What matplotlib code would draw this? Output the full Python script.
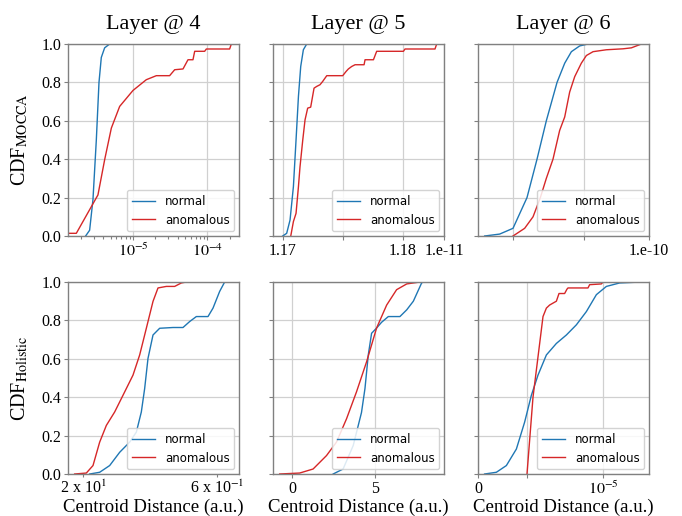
import numpy as np
import matplotlib
matplotlib.use("Agg")
import matplotlib.pyplot as plt

plt.rcParams['font.family'] = ['Liberation Serif', 'DejaVu Serif']
plt.rcParams['mathtext.fontset'] = 'stix'

# ---------------- data ----------------
titles = ["Layer @ 4", "Layer @ 5", "Layer @ 6"]
ylabels = [r"CDF$_{\rm MOCCA}$", r"CDF$_{\rm Holistic}$"]
xlabel = "Centroid Distance (a.u.)"
series_names = ["normal", "anomalous"]
yticks = [0.0, 0.2, 0.4, 0.6, 0.8, 1.0]
ytick_labels = ["0.0", "0.2", "0.4", "0.6", "0.8", "1.0"]

# Top row (MOCCA)
l4m_normal_x = [2.307e-6, 2.612e-6, 2.897e-6, 3.214e-6, 3.491e-6, 3.750e-6, 4.159e-6, 4.853e-6]
l4m_normal_y = [0.0, 0.03, 0.19, 0.5, 0.8, 0.93, 0.98, 1.0]
l4m_anom_x = [1.337e-6, 1.730e-6, 3.381e-6, 4.159e-6, 5.117e-6, 6.622e-6, 1.0e-5, 1.510e-5,
              2.061e-5, 3.112e-5, 3.639e-5, 4.710e-5, 5.495e-5, 6.412e-5, 6.761e-5,
              9.204e-5, 9.705e-5, 1.995e-4, 2.104e-4]
l4m_anom_y = [0.014, 0.014, 0.214, 0.397, 0.562, 0.675, 0.758, 0.814, 0.835, 0.835, 0.866,
              0.87, 0.918, 0.918, 0.962, 0.962, 0.974, 0.974, 1.0]
l4m_xlim = [1.337e-6, 2.667e-4]
l4m_xticks = [1e-5, 1e-4]
l4m_xticklabels = [r"$10^{-5}$", r"$10^{-4}$"]

l5m_normal_x = [1.17, 1.17033, 1.17061, 1.17089, 1.17111, 1.17131, 1.1715, 1.17172, 1.172]
l5m_normal_y = [0.0, 0.014, 0.083, 0.257, 0.5, 0.727, 0.883, 0.97, 1.0]
l5m_anom_x = [1.17067, 1.17089, 1.17111, 1.17131, 1.17144, 1.17167, 1.17186, 1.17208,
              1.17233, 1.17261, 1.17283, 1.17311, 1.17333, 1.17367, 1.175, 1.17528,
              1.17547, 1.17575, 1.17603, 1.17678, 1.17686, 1.17756, 1.17783, 1.18006,
              1.18019, 1.18269, 1.18283]
l5m_anom_y = [0.0, 0.075, 0.118, 0.257, 0.36, 0.5, 0.605, 0.666, 0.671, 0.77, 0.779, 0.788,
              0.805, 0.835, 0.835, 0.857, 0.87, 0.883, 0.892, 0.892, 0.918, 0.918, 0.962,
              0.962, 0.974, 0.974, 1.0]
l5m_xlim = [1.16919, 1.18344]
l5m_xticks = [1.17, 1.175, 1.18, 1.18344]
l5m_xticklabels = ["1.17", "", "1.18", "1.e-11"]

l6m_normal_x = [0.601, 0.812, 1.0, 1.197, 1.338, 1.469, 1.62, 1.728, 1.822, 1.939, 2.056, 2.2]
l6m_normal_y = [0.0, 0.01, 0.04, 0.2, 0.4, 0.6, 0.8, 0.9, 0.96, 0.99, 1.0, 1.0]
l6m_anom_x = [1.0, 1.164, 1.282, 1.385, 1.469, 1.563, 1.657, 1.728, 1.798, 1.869, 1.962,
              2.033, 2.127, 2.315, 2.55, 2.667, 2.808]
l6m_anom_y = [0.0, 0.04, 0.1, 0.2, 0.3, 0.4, 0.55, 0.62, 0.75, 0.83, 0.9, 0.94, 0.96, 0.97,
              0.975, 0.98, 1.0]
l6m_xlim = [0.507, 2.915]
l6m_xticks = [1.0, 2.0, 2.915]
l6m_xticklabels = ["", "", "1.e-10"]

# Bottom row (Holistic)
l4h_normal_x = [1.267, 1.852, 2.437, 3.021, 3.606, 3.996, 4.288, 4.483, 4.678, 4.971, 5.361,
                6.140, 6.725, 7.115, 7.505, 8.187, 8.480, 8.869, 9.162, 10.0]
l4h_normal_y = [0.0, 0.009, 0.044, 0.113, 0.166, 0.218, 0.323, 0.445, 0.602, 0.724, 0.759,
                0.763, 0.763, 0.794, 0.82, 0.82, 0.864, 0.951, 1.0, 1.0]
l4h_anom_x = [0.390, 1.072, 1.462, 1.852, 2.242, 2.729, 3.216, 3.801, 4.191, 4.581, 4.971,
              5.263, 5.750, 6.238, 6.628, 6.920]
l4h_anom_y = [0.0, 0.005, 0.044, 0.166, 0.253, 0.323, 0.410, 0.515, 0.620, 0.759, 0.899,
              0.969, 0.977, 0.977, 0.995, 1.0]
l4h_xlim = [0.0, 10.0]
l4h_xticks = [0.877, 8.71]
l4h_xticklabels = [r"2 x 10$^{1}$", r"6 x 10$^{-1}$"]

l5h_normal_x = [2.48, 3.08, 3.69, 4.19, 4.40, 4.60, 4.80, 5.10, 5.40, 5.81, 6.51, 6.92,
                7.32, 7.82, 7.92, 8.73]
l5h_normal_y = [0.0, 0.026, 0.148, 0.32, 0.445, 0.62, 0.733, 0.76, 0.79, 0.82, 0.82, 0.855,
                0.9, 0.995, 1.0, 1.0]
l5h_anom_x = [-0.746, 0.46, 1.27, 2.08, 2.68, 3.29, 3.89, 4.50, 5.10, 5.71, 6.31, 6.92,
              7.72, 8.73]
l5h_anom_y = [0.0, 0.005, 0.026, 0.096, 0.166, 0.288, 0.428, 0.585, 0.76, 0.88, 0.96, 0.99,
              1.0, 1.0]
l5h_xlim = [-1.15, 9.17]
l5h_xticks = [0, 5]
l5h_xticklabels = ["0", "5"]

l6h_normal_x = [0.053, 0.147, 0.227, 0.307, 0.373, 0.427, 0.48, 0.547, 0.627, 0.707, 0.787,
                0.867, 0.947, 1.027, 1.133, 1.307]
l6h_normal_y = [0.0, 0.009, 0.044, 0.13, 0.27, 0.41, 0.515, 0.62, 0.68, 0.724, 0.777, 0.846,
                0.934, 0.977, 0.995, 1.0]
l6h_anom_x = [0.392, 0.44, 0.52, 0.547, 0.573, 0.627, 0.648, 0.693, 0.712, 0.72, 0.88,
              0.893, 0.987, 1.0]
l6h_anom_y = [0.0, 0.4, 0.82, 0.864, 0.88, 0.9, 0.94, 0.94, 0.963, 0.969, 0.969, 0.986,
              0.99, 1.0]
l6h_xlim = [0.0, 1.368]
l6h_xticks = [0.0, 0.392, 1.0]
l6h_xticklabels = ["0", "", r"$10^{-5}$"]

# ---------------- style ----------------
c_normal = "#1f77b4"
c_anom = "#d62728"
spine_c = "#808080"
grid_c = "#d0d0d0"

fig = plt.figure(figsize=(6.82, 5.16), dpi=100)
W = 171 / 682
lefts = [68 / 682, 273 / 682, 478 / 682]
bottoms = [1 - 236 / 516, 1 - 474 / 516]
H = 192 / 516

panels = [
    [(l4m_normal_x, l4m_normal_y, l4m_anom_x, l4m_anom_y, l4m_xlim, l4m_xticks, l4m_xticklabels, 'log'),
     (l5m_normal_x, l5m_normal_y, l5m_anom_x, l5m_anom_y, l5m_xlim, l5m_xticks, l5m_xticklabels, 'linear'),
     (l6m_normal_x, l6m_normal_y, l6m_anom_x, l6m_anom_y, l6m_xlim, l6m_xticks, l6m_xticklabels, 'linear')],
    [(l4h_normal_x, l4h_normal_y, l4h_anom_x, l4h_anom_y, l4h_xlim, l4h_xticks, l4h_xticklabels, 'minor'),
     (l5h_normal_x, l5h_normal_y, l5h_anom_x, l5h_anom_y, l5h_xlim, l5h_xticks, l5h_xticklabels, 'linear'),
     (l6h_normal_x, l6h_normal_y, l6h_anom_x, l6h_anom_y, l6h_xlim, l6h_xticks, l6h_xticklabels, 'linear')],
]

for r in range(2):
    for c in range(3):
        nx, ny, ax_, ay, xlim, xt, xtl, mode = panels[r][c]
        ax = fig.add_axes([lefts[c], bottoms[r], W, H])
        ax.set_axisbelow(True)
        if mode == 'log':
            ax.set_xscale('log')
        ax.plot(nx, ny, color=c_normal, lw=1.0, label=series_names[0])
        ax.plot(ax_, ay, color=c_anom, lw=1.0, label=series_names[1])
        ax.set_xlim(xlim)
        ax.set_ylim(0, 1)
        ax.set_yticks(yticks)
        if c == 0:
            ax.set_yticklabels(ytick_labels)
            ax.set_ylabel(ylabels[r], fontsize=14.5, labelpad=8)
        else:
            ax.set_yticklabels([])
        if mode == 'minor':
            ax.set_xticks([])
            ax.set_xticks(xt, minor=True)
            ax.set_xticklabels(xtl, minor=True)
            ax.grid(True, axis='y', which='major', color=grid_c, lw=0.9)
        else:
            ax.set_xticks(xt)
            ax.set_xticklabels(xtl)
            ax.grid(True, which='major', color=grid_c, lw=0.9)
        ax.tick_params(axis='both', which='both', labelsize=11.5, colors='black',
                       color=spine_c, length=3, width=0.8, pad=2)
        ax.tick_params(axis='x', which='minor', length=2)
        for s in ax.spines.values():
            s.set_color(spine_c)
            s.set_linewidth(1.0)
        if r == 0:
            ax.set_title(titles[c], fontsize=16, pad=11)
        else:
            ax.set_xlabel(xlabel, fontsize=13.5, va='top')
            ax.xaxis.set_label_coords(0.5, -0.128)
        leg = ax.legend(loc='lower right', prop={'family': 'DejaVu Sans', 'size': 8.5},
                        frameon=True, framealpha=0.85, edgecolor='#cccccc',
                        borderaxespad=0.4, handlelength=2.0)

fig.savefig("out.png", dpi=100)
